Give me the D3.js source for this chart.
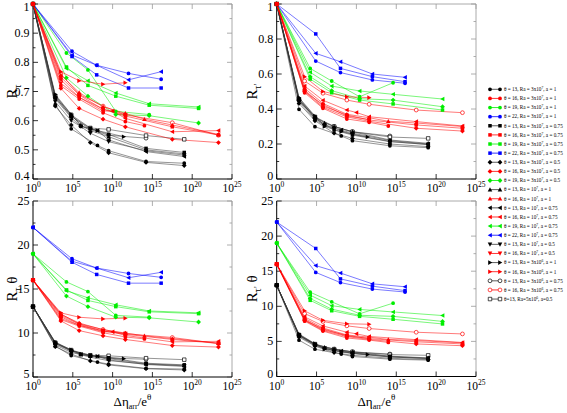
<!DOCTYPE html>
<html><head><meta charset="utf-8">
<script src="https://cdn.jsdelivr.net/npm/d3@7"></script>
<style>
body{margin:0;background:#fff}
svg{display:block}
text{font-family:"Liberation Serif","DejaVu Serif",serif;fill:#000}
</style></head>
<body><svg id="c" width="567" height="413"></svg>
<script>
// ---------- data ----------
const legendLabels = [
 "θ = 13, Ra = 3x10^7, a = 1","θ = 16, Ra = 3x10^7, a = 1","θ = 19, Ra = 3x10^7, a = 1","θ = 22, Ra = 3x10^7, a = 1",
 "θ = 13, Ra = 3x10^7, a = 0.75","θ = 16, Ra = 3x10^7, a = 0.75","θ = 19, Ra = 3x10^7, a = 0.75","θ = 22, Ra = 3x10^7, a = 0.75",
 "θ = 13, Ra = 3x10^7, a = 0.5","θ = 16, Ra = 3x10^7, a = 0.5","θ = 19, Ra = 3x10^7, a = 0.5",
 "θ = 13, Ra = 10^7, a = 1","θ = 16, Ra = 10^7, a = 1",
 "θ = 13, Ra = 10^7, a = 0.75","θ = 16, Ra = 10^7, a = 0.75","θ = 19, Ra = 10^7, a = 0.75","θ = 22, Ra = 10^7, a = 0.75",
 "θ = 13, Ra = 10^7, a = 0.5","θ = 16, Ra = 10^7, a = 0.5",
 "θ = 13, Ra = 3x10^6, a = 1","θ = 16, Ra = 3x10^6, a = 1",
 "θ = 13, Ra = 3x10^6, a = 0.75","θ = 16, Ra = 3x10^6, a = 0.75",
 "θ=13, Ra=5x10^6, a=0.5"
];
const seriesTheta = [13,16,19,22, 13,16,19,22, 13,16,19, 13,16, 13,16,19,22, 13,16, 13,16, 13,16, 13];
// x values given as exponents of 10 (Δη_arr / e^θ = 10^x)
const seriesXExp = [
 [0,2.8,4.8,8.1,9.5,14.2,19.0],
 [0,3.5,5.8,8.8,11.6,14.0],
 [0,4.2,6.9,10.4,14.6],
 [0,4.9,8.0,12.0,16.1],
 [0,2.8,4.8,7.2,9.5,14.2,19.0],
 [0,3.5,5.8,8.8,11.6,17.5,23.3],
 [0,4.2,6.9,10.4,14.6,20.8],
 [0,4.9,8.0,12.0,16.1],
 [0,2.8,4.8,7.2,9.5,14.2,19.0],
 [0,3.5,5.8,8.8,11.6,17.5,23.3],
 [0,4.2,6.9,10.4,14.6,20.8],
 [0,2.8,4.8,6.0,7.2,9.5,14.2,19.0],
 [0,3.5,5.8,8.8,11.6,14.0,17.5,23.3],
 [0,2.8,4.8,6.0,8.1,9.5,14.2,19.0],
 [0,3.5,5.8,8.8,10.0,11.6,17.5,23.3],
 [0,4.2,6.9,10.4,14.6,20.8],
 [0,4.9,8.0,12.0,16.1],
 [0,2.8,4.8,6.0,7.2,9.5,14.2,19.0],
 [0,3.5,5.8,8.8,11.6],
 [0,2.8,4.8,6.0,8.1,11.4],
 [0,3.5,5.8,8.8,11.6],
 [0,2.8,4.8,7.2,9.5,14.2],
 [0,3.5,5.8,8.8,11.6,17.5,23.3],
 [0,2.8,4.8,7.2,9.5,14.2,19.0]
];
// R_tau
const seriesRt = [
 [1,0.655,0.572,0.515,0.497,0.46,0.454],
 [1,0.72,0.674,0.627,0.597,0.583],
 [1,0.832,0.774,0.632,0.621],
 [1,0.838,0.79,0.762,0.742],
 [1,0.68,0.615,0.574,0.553,0.505,0.491],
 [1,0.749,0.688,0.639,0.616,0.579,0.551],
 [1,0.784,0.721,0.684,0.653,0.642],
 [1,0.82,0.757,0.712,0.712],
 [1,0.65,0.585,0.525,0.49,0.457,0.446],
 [1,0.711,0.642,0.605,0.579,0.536,0.525],
 [1,0.747,0.684,0.621,0.617,0.592],
 [1,0.685,0.62,0.585,0.566,0.545,0.5,0.486],
 [1,0.757,0.696,0.648,0.625,0.605,0.585,0.553],
 [1,0.675,0.61,0.58,0.566,0.534,0.494,0.477],
 [1,0.74,0.68,0.633,0.633,0.608,0.562,0.566],
 [1,0.779,0.737,0.695,0.658,0.647],
 [1,0.825,0.79,0.74,0.768],
 [1,0.665,0.6,0.58,0.557,0.528,0.497,0.482],
 [1,0.728,0.68,0.64,0.62],
 [1,0.69,0.622,0.582,0.566,0.545],
 [1,0.768,0.737,0.725,0.73],
 [1,0.68,0.615,0.57,0.55,0.54],
 [1,0.76,0.69,0.65,0.62,0.593,0.55],
 [1,0.685,0.62,0.575,0.57,0.549,0.536]
];
// R_tau'
const seriesRtp = [
 [1,0.398,0.299,0.246,0.219,0.19,0.179],
 [1,0.493,0.404,0.343,0.324,0.303],
 [1,0.632,0.56,0.47,0.55],
 [1,0.674,0.608,0.566,0.547],
 [1,0.451,0.347,0.28,0.251,0.213,0.198],
 [1,0.509,0.417,0.366,0.337,0.309,0.29],
 [1,0.571,0.493,0.451,0.429,0.394],
 [1,0.829,0.632,0.585,0.556],
 [1,0.432,0.333,0.262,0.232,0.2,0.185],
 [1,0.5,0.41,0.355,0.33,0.29,0.274],
 [1,0.585,0.505,0.459,0.451,0.413],
 [1,0.461,0.356,0.32,0.3,0.27,0.223,0.204],
 [1,0.518,0.432,0.37,0.35,0.33,0.32,0.30],
 [1,0.451,0.35,0.31,0.28,0.262,0.22,0.2],
 [1,0.531,0.45,0.394,0.38,0.356,0.328,0.303],
 [1,0.61,0.531,0.503,0.484,0.457],
 [1,0.718,0.67,0.6,0.581],
 [1,0.442,0.34,0.305,0.29,0.255,0.215,0.196],
 [1,0.5,0.425,0.36,0.34],
 [1,0.465,0.36,0.3,0.27,0.24],
 [1,0.585,0.5,0.47,0.465],
 [1,0.45,0.35,0.3,0.27,0.246],
 [1,0.56,0.49,0.451,0.427,0.394,0.379],
 [1,0.455,0.355,0.3,0.27,0.24,0.232]
];
const xTickExp = [0,5,10,15,20,25];
const yTicksTL = [0.4,0.5,0.6,0.7,0.8,0.9,1];
const yTicksTR = [0,0.2,0.4,0.6,0.8,1];
const yTicksBL = [5,10,15,20,25];
const yTicksBR = [0,5,10,15,20,25];

// ---------- styles ----------
const seriesColor = ["#000","#f00","#0e0","#00f","#000","#f00","#0e0","#00f","#000","#f00","#0e0",
 "#000","#f00","#000","#f00","#0e0","#00f","#000","#f00","#000","#f00","#000","#f00","#000"];
const seriesMarker = ["circle","circle","circle","circle","square","square","square","square","diamond","diamond","diamond",
 "up","up","left","left","left","left","down","down","right","right","ocircle","ocircle","osquare"];
const drawOrder = [21,22,23,0,2,3,4,6,7,8,10,11,13,15,16,17,19,5,9,12,14,18,20,1];

function markerPath(t){
  const r=1.9,s=1.75,d=2.4,k=2.3;
  switch(t){
    case "circle": case "ocircle": return `M${-r},0a${r},${r} 0 1,0 ${2*r},0a${r},${r} 0 1,0 ${-2*r},0Z`;
    case "square": case "osquare": return `M${-s},${-s}h${2*s}v${2*s}h${-2*s}Z`;
    case "diamond": return `M0,${-d}L${d},0L0,${d}L${-d},0Z`;
    case "up": return `M0,${-k}L${k},${k*0.8}L${-k},${k*0.8}Z`;
    case "down": return `M0,${k}L${k},${-k*0.8}L${-k},${-k*0.8}Z`;
    case "left": return `M${-k},0L${k*0.8},${-k}L${k*0.8},${k}Z`;
    case "right": return `M${k},0L${-k*0.8},${-k}L${-k*0.8},${k}Z`;
  }
}
function lineColor(c){ return c==="#000"?"#333":c; }

const svg = d3.select("#c");

const panels = [
 {x0:33,x1:232,yb:179,yt:4,dom:[0.4,1],ticks:yTicksTL,minor:0.05,vals:seriesRt,mult:false,fmt:d=>d===1?"1":d.toFixed(1),title:["R","τ",""],tx:17,xTitle:false},
 {x0:276.7,x1:476,yb:179,yt:4,dom:[0,1],ticks:yTicksTR,minor:0.1,vals:seriesRtp,mult:false,fmt:d=>(d===0||d===1)?String(d):d.toFixed(1),title:["R","τ'",""],tx:257,xTitle:false},
 {x0:33,x1:232,yb:377,yt:201,dom:[5,25],ticks:yTicksBL,minor:2.5,vals:seriesRt,mult:true,fmt:d=>String(d),title:["R","τ"," θ"],tx:17,xTitle:true},
 {x0:276.7,x1:476,yb:376.5,yt:201,dom:[0,25],ticks:yTicksBR,minor:2.5,vals:seriesRtp,mult:true,fmt:d=>String(d),title:["R","τ'"," θ"],tx:257,xTitle:true}
];

panels.forEach(p=>{
  const x = d3.scaleLog().domain([1,1e25]).range([p.x0,p.x1]);
  const y = d3.scaleLinear().domain(p.dom).range([p.yb,p.yt]);
  const g = svg.append("g");
  g.append("line").attr("x1",p.x0).attr("x2",p.x1).attr("y1",p.yt).attr("y2",p.yt).attr("stroke","#aaa").attr("stroke-width",1);
  g.append("line").attr("x1",p.x1).attr("x2",p.x1).attr("y1",p.yt).attr("y2",p.yb).attr("stroke","#aaa").attr("stroke-width",1);
  const minors = d3.range(p.dom[0], p.dom[1]+1e-9, p.minor);
  minors.forEach(v=>{
    const isMajor = p.ticks.some(t=>Math.abs(t-v)<1e-9);
    const len = isMajor?5:2.5;
    g.append("line").attr("x1",p.x0).attr("x2",p.x0+len).attr("y1",y(v)).attr("y2",y(v)).attr("stroke","#000").attr("stroke-width",0.8);
    g.append("line").attr("x1",p.x1).attr("x2",p.x1-len).attr("y1",y(v)).attr("y2",y(v)).attr("stroke","#999").attr("stroke-width",0.8);
  });
  xTickExp.forEach(e=>{
    const xv = x(Math.pow(10,e));
    g.append("line").attr("x1",xv).attr("x2",xv).attr("y1",p.yb).attr("y2",p.yb-5).attr("stroke","#000").attr("stroke-width",0.8);
    g.append("line").attr("x1",xv).attr("x2",xv).attr("y1",p.yt).attr("y2",p.yt+5).attr("stroke","#999").attr("stroke-width",0.8);
    const t = g.append("text").attr("x",xv).attr("y",p.yb+13).attr("text-anchor","middle").attr("font-size",11.5);
    t.append("tspan").text("10");
    t.append("tspan").attr("dy",-5).attr("font-size",7.5).text(String(e));
  });
  g.append("line").attr("x1",p.x0).attr("x2",p.x1).attr("y1",p.yb).attr("y2",p.yb).attr("stroke","#000").attr("stroke-width",1);
  g.append("line").attr("x1",p.x0).attr("x2",p.x0).attr("y1",p.yt).attr("y2",p.yb).attr("stroke","#000").attr("stroke-width",1);
  p.ticks.forEach(v=>{
    g.append("text").attr("x",p.x0-3.5).attr("y",Math.max(Math.min(y(v)+4,p.yb+1),10.5)).attr("text-anchor","end").attr("font-size",12).text(p.fmt(v));
  });
  const yc = (p.yt+p.yb)/2;
  const tt = g.append("text").attr("transform",`translate(${p.tx},${yc}) rotate(-90)`).attr("text-anchor","middle").attr("font-size",15);
  tt.append("tspan").text(p.title[0]);
  tt.append("tspan").attr("dy",4).attr("font-size",10).text(p.title[1]);
  if(p.title[2]) tt.append("tspan").attr("dy",-4).text(p.title[2]);
  if(p.xTitle){
    const xt = g.append("text").attr("x",(p.x0+p.x1)/2).attr("y",406).attr("text-anchor","middle").attr("font-size",13);
    xt.append("tspan").text("Δη");
    xt.append("tspan").attr("dy",3).attr("font-size",8).text("arr");
    xt.append("tspan").attr("dy",-3).text("/e");
    xt.append("tspan").attr("dy",-6).attr("font-size",9).text("θ");
  }
  const line = d3.line().x(d=>x(d[0])).y(d=>y(d[1]));
  const ptsOf = i => seriesXExp[i].map((e,j)=>[Math.pow(10,e), p.mult ? p.vals[i][j]*seriesTheta[i] : p.vals[i][j]]);
  drawOrder.forEach(i=>{
    g.append("path").attr("d",line(ptsOf(i))).attr("fill","none").attr("stroke",lineColor(seriesColor[i])).attr("stroke-width",0.7).attr("stroke-opacity",0.75);
  });
  drawOrder.forEach(i=>{
    const open = seriesMarker[i].startsWith("o");
    g.selectAll(null).data(ptsOf(i)).enter().append("path")
      .attr("d",markerPath(seriesMarker[i]))
      .attr("transform",d=>`translate(${x(d[0])},${y(d[1])})`)
      .attr("fill",open?"#fff":seriesColor[i])
      .attr("stroke",open?seriesColor[i]:"none").attr("stroke-width",0.7);
  });
});

// legend
const lg = svg.append("g");
legendLabels.forEach((lab,i)=>{
  const yy = 89.3 + i*9.12;
  lg.append("line").attr("x1",490).attr("x2",500).attr("y1",yy).attr("y2",yy).attr("stroke",lineColor(seriesColor[i])).attr("stroke-width",0.8);
  const open = seriesMarker[i].startsWith("o");
  [490,500].forEach(xx=>{
    lg.append("path").attr("d",markerPath(seriesMarker[i])).attr("transform",`translate(${xx},${yy})`)
      .attr("fill",open?"#fff":seriesColor[i]).attr("stroke",open?seriesColor[i]:"none").attr("stroke-width",0.7);
  });
  const parts = lab.split(/\^(\d+)/);
  const t = lg.append("text").attr("x",504).attr("y",yy+1.8).attr("font-size",5.2);
  t.append("tspan").text(parts[0]);
  t.append("tspan").attr("dy",-2).attr("font-size",3.6).text(parts[1]);
  t.append("tspan").attr("dy",2).text(parts[2]);
});
</script></body></html>
